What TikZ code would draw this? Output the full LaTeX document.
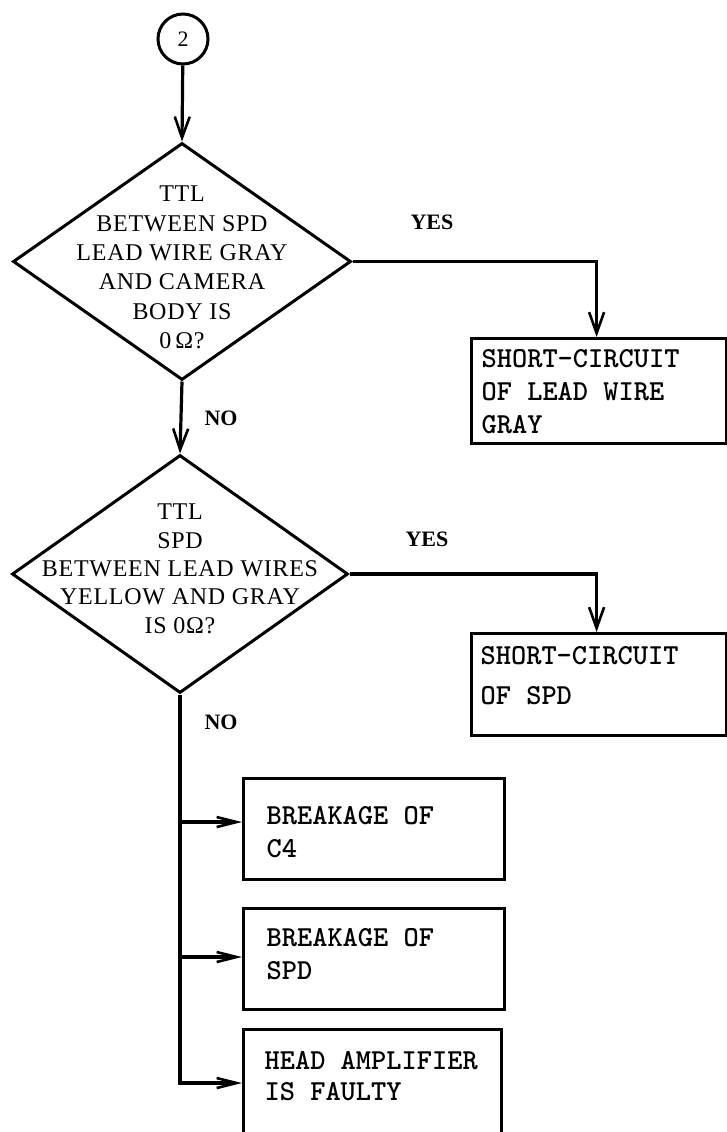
\documentclass[tikz,border=0pt]{standalone}
\usepackage{fontspec}
\newfontfamily\dfont{Liberation Serif}
\usetikzlibrary{shapes.geometric,arrows.meta}
\newcommand\diamondtext[2]{\makebox[0pt]{\smash{\raisebox{#1}{\begin{tabular}{@{}c@{}}#2\end{tabular}}}}}
\newcommand\boxtext[4]{\parbox[c][#2][t]{#1}{\vspace*{#3}\raggedright #4}}
\begin{document}
\begin{tikzpicture}[x=1pt,y=-1pt,
  conn/.style={line width=3.2pt},
  vtip/.style={conn,-{Straight Barb[length=21pt,width=15pt,line width=2.6pt]}},
  htip/.style={conn,-{Straight Barb[length=20pt,width=10pt,line width=2.6pt]}},
  decision/.style={diamond, draw, line width=3pt, inner sep=0pt, font=\dfont\addfontfeatures{LetterSpace=3}\fontsize{24}{29.3}\selectfont},
  resultbox/.style={draw, rectangle, line width=3.2pt, inner ysep=0pt, anchor=north west, font=\ttfamily\bfseries\fontsize{29}{33}\selectfont},
  answer/.style={font=\dfont\bfseries\fontsize{22}{25}\selectfont, inner sep=0pt},
  connector/.style={circle, draw, line width=3pt, minimum size=50pt, inner sep=0pt, font=\dfont\fontsize{22}{25}\selectfont}]
\fill[white] (0,0) rectangle (726,1132);
\useasboundingbox (0,0) rectangle (726,1132);

\node[connector] (c2) at (183,39) {2};

\node[decision, minimum width=338pt, minimum height=237pt] (d1) at (182,261.5)
  {\diamondtext{-14pt}{TTL\\BETWEEN SPD\\LEAD WIRE GRAY\\AND CAMERA\\BODY IS\\0\,Ω?}};

\node[decision, minimum width=336pt, minimum height=238pt, font=\dfont\addfontfeatures{LetterSpace=3}\fontsize{24}{28.3}\selectfont] (d2) at (180,574)
  {\diamondtext{-3pt}{TTL\\SPD\\BETWEEN LEAD WIRES\\YELLOW AND GRAY\\IS 0Ω?}};

\node[resultbox, inner xsep=10pt] (b1) at (470,337)
  {\boxtext{235pt}{105pt}{11pt}{SHORT-CIRCUIT\\OF LEAD WIRE\\GRAY}};
\node[resultbox, inner xsep=9pt] (b2) at (470,632)
  {\boxtext{237pt}{102pt}{13pt}{\fontsize{29}{40}\selectfont SHORT-CIRCUIT\\OF SPD}};
\node[resultbox, inner xsep=23pt] (b3) at (242,777)
  {\boxtext{215pt}{101pt}{28pt}{BREAKAGE OF\\C4}};
\node[resultbox, inner xsep=23pt] (b4) at (242,907)
  {\boxtext{215pt}{101pt}{20pt}{BREAKAGE OF\\SPD}};
\node[resultbox, inner xsep=21pt] (b5) at (242,1028)
  {\boxtext{216pt}{160pt}{22pt}{\fontsize{29}{31}\selectfont HEAD AMPLIFIER\\IS FAULTY}};

\node[answer] (yes1) at (432,222) {YES};
\node[answer] (no1) at (221,418) {NO};
\node[answer] (yes2) at (427,539) {YES};
\node[answer] (no2) at (221,722) {NO};

\draw[vtip] (c2) -- (d1.north);
\draw[vtip] (d1.east) -| ([xshift=-2.5pt]b1.north);
\draw[vtip] (d1.south) -- (d2.north);
\draw[vtip] (d2.east) -| ([xshift=-2.5pt]b2.north);

\coordinate (j3) at (180,822);
\coordinate (j4) at (180,957);
\coordinate (j5) at (180,1083);
\draw[htip] (d2.south) -- (j5) -- (j5 -| b5.west);
\draw[htip] (j3) -- (j3 -| b3.west);
\draw[htip] (j4) -- (j4 -| b4.west);
\end{tikzpicture}
\end{document}
